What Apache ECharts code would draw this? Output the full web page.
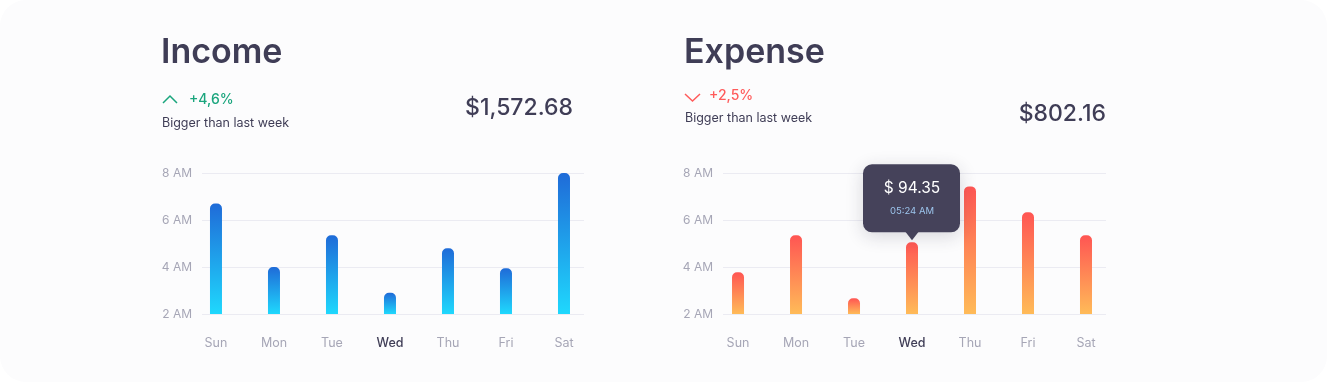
<!DOCTYPE html>
<html>
<head>
<meta charset="utf-8">
<script src="https://cdn.jsdelivr.net/npm/echarts@6/dist/echarts.min.js"></script>
<style>
  html, body { margin: 0; padding: 0; background: #ffffff; }
  #card { position: absolute; left: 0; top: 0; width: 1327px; height: 382px; border-radius: 26px; background: #fcfcfd; }
  #main { position: absolute; left: 0; top: 0; width: 1327px; height: 382px; }
</style>
</head>
<body>
<div id="card"></div>
<div id="main"></div>
<script>
// donnees
var days = ['Sun', 'Mon', 'Tue', 'Wed', 'Thu', 'Fri', 'Sat'];
var incomeHours = [6.7, 4.0, 5.35, 2.9, 4.8, 3.95, 8.0];
var expenseHours = [3.78, 5.35, 2.67, 5.05, 7.43, 6.33, 5.35];
var hourTicks = [2, 4, 6, 8];
var highlightDay = 3; // Wed
var tipAmount = '$ 94.35';
var tipTime = '05:24 AM';

var FONT = 'Inter, "Noto Sans", sans-serif';
var DARK = '#3f3d56';
var GREY = '#a6a6b6';

var myChart = echarts.init(document.getElementById('main'));

function toPoints(vals) {
  return vals.map(function (v, i) { return [i, v]; });
}

function xAxisFor(idx, min) {
  return {
    type: 'value', gridIndex: idx, min: min, max: 6.345,
    axisLine: { show: false }, axisTick: { show: false }, splitLine: { show: false },
    axisLabel: {
      customValues: [0, 1, 2, 3, 4, 5, 6],
      margin: 23,
      fontFamily: FONT, fontSize: 12.5, color: GREY,
      formatter: function (v) {
        var d = days[Math.round(v)];
        return Math.round(v) === highlightDay ? '{hl|' + d + '}' : d;
      },
      rich: { hl: { color: DARK, fontFamily: FONT, fontSize: 12.5, fontWeight: 500 } }
    }
  };
}

function yAxisFor(idx) {
  return {
    type: 'value', gridIndex: idx, min: hourTicks[0], max: hourTicks[hourTicks.length - 1], interval: 2,
    axisLine: { show: false }, axisTick: { show: false },
    splitLine: { lineStyle: { color: '#ebebf2', width: 1 } },
    axisLabel: {
      margin: 10, fontFamily: FONT, fontSize: 12, color: GREY,
      formatter: function (v) { return v + ' AM'; }
    }
  };
}

function barSeries(idx, vals, top, bottom) {
  return {
    type: 'bar', xAxisIndex: idx, yAxisIndex: idx, clip: true,
    barWidth: 12,
    data: toPoints(vals),
    itemStyle: {
      borderRadius: [5, 5, 0, 0],
      color: new echarts.graphic.LinearGradient(0, 0, 0, 1, [
        { offset: 0, color: top }, { offset: 1, color: bottom }
      ])
    }
  };
}

function chevron(id, pts, color) {
  return { type: 'polyline', id: id, shape: { points: pts }, style: { stroke: color, lineWidth: 1.5, fill: null } };
}

function txt(id, x, y, text, size, color, weight, align) {
  return {
    type: 'text', id: id, x: x, y: y,
    style: { text: text, fontFamily: FONT, fontSize: size, fill: color, fontWeight: weight || 400,
      align: align || 'left', verticalAlign: 'middle' }
  };
}

var option = {
  animation: false,
  grid: [
    { left: 202, top: 173, width: 382, height: 141 },
    { left: 723, top: 173, width: 383, height: 141 }
  ],
  xAxis: [xAxisFor(0, -0.241), xAxisFor(1, -0.259)],
  yAxis: [yAxisFor(0), yAxisFor(1)],
  series: [
    barSeries(0, incomeHours, '#1f6bd8', '#1fd8fd'),
    barSeries(1, expenseHours, '#ff5553', '#ffbb58')
  ],
  graphic: [
    txt('t1', 161, 53, 'Income', 34, DARK, 600),
    chevron('c1', [[163, 103], [170, 96], [177, 103]], '#1aa57d'),
    txt('p1', 189, 100, '+4,6%', 14, '#1aa57d', 500),
    txt('s1', 162, 123, 'Bigger than last week', 12.5, DARK, 400),
    txt('v1', 573, 108, '$1,572.68', 23, DARK, 500, 'right'),
    txt('t2', 684, 53, 'Expense', 34, DARK, 600),
    chevron('c2', [[685, 94], [692.5, 101], [700, 94]], '#ff5b5b'),
    txt('p2', 709, 96, '+2,5%', 14, '#ff5b5b', 500),
    txt('s2', 685, 118, 'Bigger than last week', 12.5, DARK, 400),
    txt('v2', 1106, 114, '$802.16', 23, DARK, 500, 'right')
  ]
};

myChart.setOption(option);

// bulle au-dessus de la barre du mercredi
var p = myChart.convertToPixel({ xAxisIndex: 1, yAxisIndex: 1 }, [highlightDay, expenseHours[highlightDay]]);
var bx = p[0], by = p[1] - 1;
option.graphic.push({
  type: 'group', id: 'tip', x: bx, y: by, z: 100,
  children: [
    { type: 'rect', z: 100, shape: { x: -49, y: -77, width: 97, height: 68, r: 9 },
      style: { fill: '#45425a', shadowBlur: 18, shadowColor: 'rgba(40,40,60,0.18)', shadowOffsetY: 4 } },
    { type: 'polygon', z: 100, shape: { points: [[-7, -10], [7, -10], [0, -1]] }, style: { fill: '#45425a' } },
    { type: 'text', z: 101, x: 0, y: -53, style: { text: tipAmount, fontFamily: FONT, fontSize: 15.5, fill: '#ffffff',
        align: 'center', verticalAlign: 'middle' } },
    { type: 'text', z: 101, x: 0, y: -30, style: { text: tipTime, fontFamily: FONT, fontSize: 9.5, fill: '#9cc4ec',
        align: 'center', verticalAlign: 'middle' } }
  ]
});
myChart.setOption(option, true);
</script>
</body>
</html>
